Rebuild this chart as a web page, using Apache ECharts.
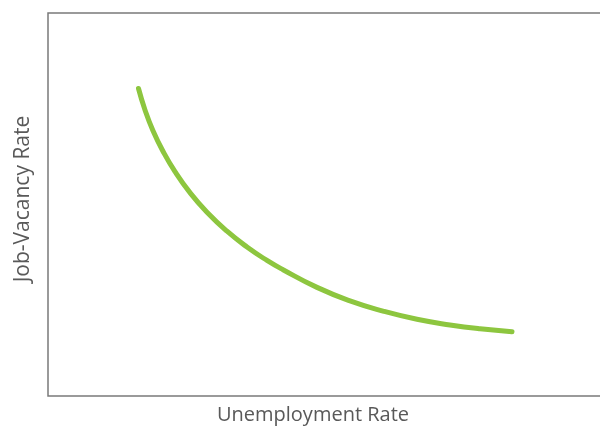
<!DOCTYPE html>
<html>
<head>
<meta charset="utf-8">
<script src="https://cdn.jsdelivr.net/npm/echarts@6/dist/echarts.min.js"></script>
<style>
html,body{margin:0;padding:0;background:#fff;}
#chart{width:600px;height:432px;}
</style>
</head>
<body>
<div id="chart"></div>
<script>
// Beveridge-style curve (arbitrary units)
const unemploymentRate = [18.1, 19.4, 21.0, 23.0, 25.4, 28.4, 31.8, 35.8, 39.8, 43.8, 47.0, 53.8, 60.4, 67.0, 73.8, 80.4, 86.4, 92.8];
const jobVacancyRate   = [80.29, 74.69, 69.26, 63.90, 58.58, 53.09, 47.99, 43.03, 38.90, 35.40, 32.98, 28.36, 24.83, 22.17, 20.03, 18.56, 17.55, 16.79];
const xTitle = 'Unemployment Rate';
const yTitle = 'Job-Vacancy Rate';

const points = unemploymentRate.map((x, i) => [x, jobVacancyRate[i]]);

const chart = echarts.init(document.getElementById('chart'), null, {renderer: 'canvas'});
chart.setOption({
  animation: false,
  grid: {
    left: 48, top: 13, width: 570, height: 383,
    outerBoundsMode: 'none', containLabel: false,
    show: true, borderColor: '#7a7a7a', borderWidth: 1.5, backgroundColor: 'transparent'
  },
  xAxis: {
    type: 'value', min: 0, max: 114,
    axisLine: {show: false}, axisTick: {show: false}, axisLabel: {show: false}, splitLine: {show: false}
  },
  yAxis: {
    type: 'value', min: 0, max: 100,
    axisLine: {show: false}, axisTick: {show: false}, axisLabel: {show: false}, splitLine: {show: false}
  },
  graphic: [{
    type: 'text', x: 313, y: 405,
    style: {text: xTitle, fontFamily: 'Open Sans', fontSize: 20, fill: '#595959', textAlign: 'center', textVerticalAlign: 'top'}
  }, {
    type: 'text', x: 23, y: 199, rotation: Math.PI / 2,
    style: {text: yTitle, fontFamily: 'Open Sans', fontSize: 21, fill: '#595959', textAlign: 'center', textVerticalAlign: 'middle'}
  }],
  series: [{
    type: 'line', data: points, smooth: true, showSymbol: false,
    lineStyle: {color: '#8DC63F', width: 5, cap: 'round'}
  }]
});
</script>
</body>
</html>
